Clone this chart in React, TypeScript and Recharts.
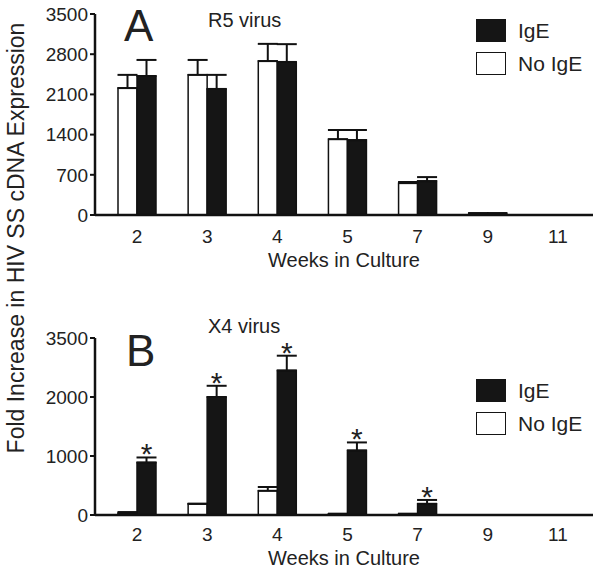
import { BarChart, Bar, XAxis, YAxis, ErrorBar, LabelList } from 'recharts'

// weeks in culture (categories)
const weeks = ['2', '3', '4', '5', '7', '9', '11']

// Panel A - R5 virus
const r5NoIgE = [2210, 2440, 2680, 1320, 555, 30, 0]
const r5NoIgEErr = [230, 260, 300, 160, 20, 0, 0]
const r5IgE = [2420, 2195, 2665, 1305, 590, 30, 0]
const r5IgEErr = [280, 245, 310, 175, 70, 0, 0]
const r5Ticks = [0, 700, 1400, 2100, 2800, 3500]

// Panel B - X4 virus
const x4NoIgE = [30, 190, 410, 20, 20, 0, 0]
const x4NoIgEErr = [20, 0, 65, 0, 0, 0, 0]
const x4IgE = [890, 2000, 2450, 1095, 190, 0, 0]
const x4IgEErr = [85, 190, 250, 135, 65, 0, 0]
const x4Star = [true, true, true, true, true, false, false]
// the original figure labels its top tick "3500" although it sits at 3000
const x4Ticks = [0, 1000, 2000, 3000]
const x4TickLabels = ['0', '1000', '2000', '3500']

const legendItems = [
  { name: 'IgE', fill: '#151515' },
  { name: 'No IgE', fill: '#ffffff' },
]

const FONT = '"Liberation Sans", Arial, Helvetica, sans-serif'
const INK = '#222'

const r5Data = weeks.map((w, i) => ({
  week: w,
  noIgE: r5NoIgE[i],
  noIgEErr: [0, r5NoIgEErr[i]],
  igE: r5IgE[i],
  igEErr: [0, r5IgEErr[i]],
}))

const x4Data = weeks.map((w, i) => ({
  week: w,
  noIgE: x4NoIgE[i],
  noIgEErr: [0, x4NoIgEErr[i]],
  igE: x4IgE[i],
  igEErr: [0, x4IgEErr[i]],
  starGap: x4IgEErr[i],
}))

function LegendBox({ left, top }: { left: number; top: number }) {
  return (
    <div style={{ position: 'absolute', left, top, fontFamily: FONT, color: INK }}>
      {legendItems.map((it) => (
        <div key={it.name} style={{ display: 'flex', alignItems: 'center', height: 33 }}>
          <div
            style={{
              width: 28,
              height: 21,
              background: it.fill,
              border: '1.5px solid #151515',
              marginRight: 12,
            }}
          />
          <span style={{ fontSize: 21 }}>{it.name}</span>
        </div>
      ))}
    </div>
  )
}

function StarLabel(props: any) {
  const { x, y, width, index } = props
  if (!x4Star[index]) return null
  return (
    <text x={x + width / 2} y={y + 7} textAnchor="middle" fontSize={30} fontFamily={FONT} fill={INK}>
      *
    </text>
  )
}

const axisTick = { fill: INK, fontSize: 19, fontFamily: FONT }

export default function App() {
  return (
    <div style={{ position: 'absolute', left: 0, top: 0, width: 600, height: 571, background: '#fff', overflow: 'hidden' }}>
      <div style={{ position: 'absolute', left: 0, top: 0 }}>
        <BarChart width={600} height={270} data={r5Data} margin={{ top: 14, right: 7, left: 0, bottom: 0 }} barSize={19} barGap={0}>
          <XAxis
            dataKey="week"
            axisLine={{ stroke: '#111', strokeWidth: 2.5 }}
            tickLine={false}
            tickMargin={9}
            height={55}
            padding={{ left: 7, right: 0 }}
            tick={axisTick}
            label={{ value: 'Weeks in Culture', position: 'insideBottom', offset: 3, fill: INK, fontSize: 20, fontFamily: FONT }}
          />
          <YAxis
            width={95}
            domain={[0, 3500]}
            ticks={r5Ticks}
            interval={0}
            tickSize={5}
            tickMargin={2}
            axisLine={{ stroke: '#111', strokeWidth: 2.5 }}
            tickLine={{ stroke: '#111', strokeWidth: 2 }}
            tick={axisTick}
          />
          <Bar dataKey="noIgE" stackId="a" fill="#fff" stroke="#111" strokeWidth={1.5} isAnimationActive={false}>
            <ErrorBar dataKey="noIgEErr" width={10} stroke="#111" strokeWidth={2} direction="y" />
          </Bar>
          <Bar dataKey="igE" stackId="b" fill="#151515" stroke="#111" strokeWidth={1.5} isAnimationActive={false}>
            <ErrorBar dataKey="igEErr" width={10} stroke="#111" strokeWidth={2} direction="y" />
          </Bar>
        </BarChart>
      </div>

      <div style={{ position: 'absolute', left: 0, top: 290 }}>
        <BarChart width={600} height={281} data={x4Data} margin={{ top: 48, right: 7, left: 0, bottom: 0 }} barSize={19} barGap={0}>
          <XAxis
            dataKey="week"
            axisLine={{ stroke: '#111', strokeWidth: 2.5 }}
            tickLine={false}
            tickMargin={7}
            height={56}
            padding={{ left: 7, right: 0 }}
            tick={axisTick}
            label={{ value: 'Weeks in Culture', position: 'insideBottom', offset: 6, fill: INK, fontSize: 20, fontFamily: FONT }}
          />
          <YAxis
            width={95}
            domain={[0, 3000]}
            ticks={x4Ticks}
            interval={0}
            tickSize={5}
            tickMargin={2}
            tickFormatter={(v: number) => x4TickLabels[x4Ticks.indexOf(v)] ?? ''}
            axisLine={{ stroke: '#111', strokeWidth: 2.5 }}
            tickLine={{ stroke: '#111', strokeWidth: 2 }}
            tick={axisTick}
          />
          <Bar dataKey="noIgE" stackId="a" fill="#fff" stroke="#111" strokeWidth={1.5} isAnimationActive={false}>
            <ErrorBar dataKey="noIgEErr" width={10} stroke="#111" strokeWidth={2} direction="y" />
          </Bar>
          <Bar dataKey="igE" stackId="b" fill="#151515" stroke="#111" strokeWidth={1.5} isAnimationActive={false}>
            <ErrorBar dataKey="igEErr" width={10} stroke="#111" strokeWidth={2} direction="y" />
          </Bar>
          <Bar dataKey="starGap" stackId="b" fill="transparent" isAnimationActive={false}>
            <LabelList dataKey="starGap" content={StarLabel} />
          </Bar>
        </BarChart>
      </div>

      <LegendBox left={476} top={14} />
      <LegendBox left={476} top={374} />

      {/* panel letters and virus titles */}
      <div style={{ position: 'absolute', left: 124, top: 4, fontFamily: FONT, fontSize: 44, color: INK, lineHeight: 1 }}>A</div>
      <div style={{ position: 'absolute', left: 208, top: 10, fontFamily: FONT, fontSize: 20, color: INK, lineHeight: 1 }}>R5 virus</div>
      <div style={{ position: 'absolute', left: 126, top: 329, fontFamily: FONT, fontSize: 44, color: INK, lineHeight: 1 }}>B</div>
      <div style={{ position: 'absolute', left: 208, top: 316, fontFamily: FONT, fontSize: 20, color: INK, lineHeight: 1 }}>X4 virus</div>

      {/* shared y-axis title */}
      <div
        style={{
          position: 'absolute',
          left: 16,
          top: 238,
          transform: 'translate(-50%, -50%) rotate(-90deg)',
          whiteSpace: 'nowrap',
          fontFamily: FONT,
          fontSize: 23,
          color: INK,
          lineHeight: 1,
        }}
      >
        Fold Increase in HIV SS cDNA Expression
      </div>
    </div>
  )
}
